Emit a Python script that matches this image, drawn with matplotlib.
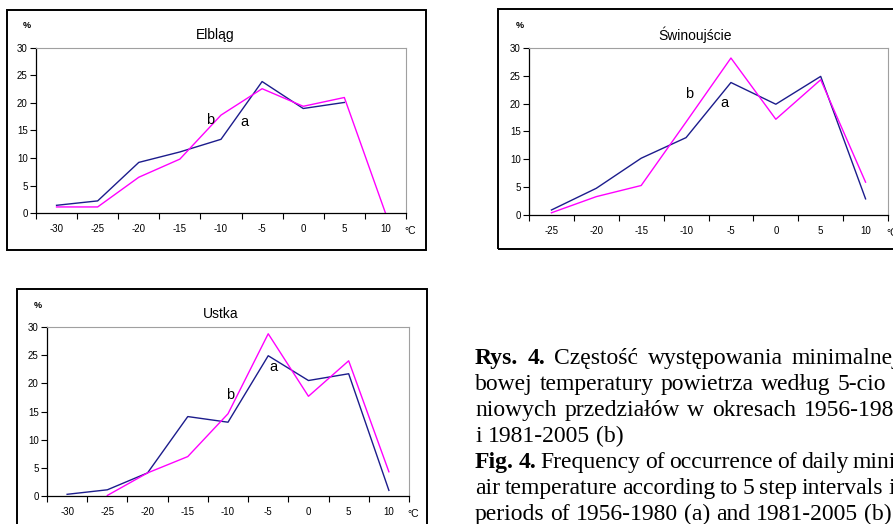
import numpy as np
import matplotlib
matplotlib.use('Agg')
import matplotlib.pyplot as plt
from matplotlib.patches import Rectangle

# temperature classes (°C) and frequency of occurrence (%)
# a = 1956-1980, b = 1981-2005
temps_elblag = ['-30', '-25', '-20', '-15', '-10', '-5', '0', '5', '10']
elblag_a = [1.4, 2.2, 9.2, 11.1, 13.4, 23.9, 19.0, 20.1, np.nan]
elblag_b = [1.1, 1.1, 6.5, 9.8, 17.8, 22.6, 19.4, 21.0, 0.0]

temps_swin = ['-25', '-20', '-15', '-10', '-5', '0', '5', '10']
swin_a = [0.9, 4.8, 10.2, 13.9, 23.8, 19.9, 24.9, 2.9]
swin_b = [0.4, 3.3, 5.3, 16.7, 28.2, 17.2, 24.3, 5.9]

temps_ustka = ['-30', '-25', '-20', '-15', '-10', '-5', '0', '5', '10']
ustka_a = [0.3, 1.1, 4.1, 14.1, 13.1, 24.9, 20.5, 21.7, 1.0]
ustka_b = [np.nan, 0.1, 4.1, 7.0, 14.6, 28.8, 17.7, 24.0, 4.3]

yticks = [0, 5, 10, 15, 20, 25, 30]

# caption lines: (bold prefix, text)
caption = [
    ('Rys. 4.', 'Częstość występowania minimalnej do-'),
    ('', 'bowej temperatury powietrza według 5-cio stop-'),
    ('', 'niowych przedziałów w okresach 1956-1980 (a)'),
    ('', 'i 1981-2005 (b)'),
    ('Fig. 4.', 'Frequency of occurrence of daily minimum'),
    ('', 'air temperature according to 5 step intervals in the'),
    ('', 'periods of 1956-1980 (a) and 1981-2005 (b)'),
]

NAVY = '#1c1c8c'
MAGENTA = '#ff00ff'

W, H = 893, 524
plt.rcParams['font.family'] = ['Liberation Sans', 'DejaVu Sans']
fig = plt.figure(figsize=(W / 100, H / 100), dpi=100)


def fx(x):
    return x / W


def fy(y):
    return 1 - y / H


def panel(box, axpos, title, title_x, cats, a, b, a_pos, b_pos):
    # outer frame of the chart object
    x0, y0, x1, y1 = box
    fig.add_artist(Rectangle((fx(x0), fy(y1)), fx(x1 - x0), (y1 - y0) / H,
                             transform=fig.transFigure, fill=False,
                             ec='black', lw=1.4))
    l, t, r, btm = axpos
    ax = fig.add_axes([fx(l), fy(btm), fx(r - l), (btm - t) / H])
    x = np.arange(len(cats))
    ax.plot(x, a, color=NAVY, lw=1.0, clip_on=False)
    ax.plot(x, b, color=MAGENTA, lw=1.0, clip_on=False)
    ax.set_xlim(-0.5, len(cats) - 0.5)
    ax.set_ylim(0, 30)
    ax.set_yticks(yticks)
    ax.tick_params(axis='y', direction='out', length=4, width=0.8,
                   labelsize=7, pad=2)
    ax.set_xticks(x)
    ax.set_xticklabels(cats)
    ax.set_xticks(np.arange(len(cats) + 1) - 0.5, minor=True)
    ax.tick_params(axis='x', which='major', length=0, labelsize=7, pad=8)
    ax.tick_params(axis='x', which='minor', direction='out', length=4, width=0.8)
    for s in ['top', 'right']:
        ax.spines[s].set_color('#a0a0a0')
    for s in ['left', 'bottom']:
        ax.spines[s].set_linewidth(0.9)

    w, h = r - l, btm - t
    ax.text((title_x - l) / w, 1 + 13 / h, title, transform=ax.transAxes,
            ha='center', va='center', fontsize=10)
    ax.text(-9 / w, 1 + 22 / h, '%', transform=ax.transAxes,
            ha='center', va='center', fontsize=6.5, fontweight='bold')
    ax.text(1 + 4 / w, -18 / h, '°C', transform=ax.transAxes,
            ha='center', va='center', fontsize=7.5)
    ax.text(a_pos[0], a_pos[1], 'a', ha='center', va='center', fontsize=10.5)
    ax.text(b_pos[0], b_pos[1], 'b', ha='center', va='center', fontsize=10.5)
    return ax


panel((7, 10, 426, 250), (36, 48, 406, 213), 'Elbląg', 215,
      temps_elblag, elblag_a, elblag_b, (4.58, 16.5), (3.73, 16.9))
panel((498, 9, 960, 249), (529, 48, 888, 215), 'Świnoujście', 695,
      temps_swin, swin_a, swin_b, (3.86, 20.1), (3.06, 21.7))
panel((17, 289, 427, 560), (47, 327, 409, 496), 'Ustka', 221,
      temps_ustka, ustka_a, ustka_b, (5.12, 22.9), (4.05, 17.9))

# caption (Polish / English), justified column cut by the right edge
cap = fig.add_axes([0, 0, 1, 1])
cap.set_xlim(0, W)
cap.set_ylim(H, 0)
cap.axis('off')
serif = ['Liberation Serif', 'DejaVu Serif']
col_left, col_right = 475, 940
fs = 17
space = 0.25 * fs * 100 / 72
renderer = fig.canvas.get_renderer()

for i, (bold, rest) in enumerate(caption):
    yb = 364 + 26 * i
    words = [(wd, 'bold') for wd in bold.split()] + [(wd, 'normal') for wd in rest.split()]
    texts = [cap.text(0, yb, wd, fontsize=fs, fontweight=fw, family=serif,
                      va='baseline', ha='left') for wd, fw in words]
    widths = [t.get_window_extent(renderer).width for t in texts]
    last_of_par = i == len(caption) - 1 or caption[i + 1][0] != ''
    if last_of_par:
        gap = space
    else:
        gap = max(0.75 * space, (col_right - col_left - sum(widths)) / (len(words) - 1))
    xpos = col_left
    for t, wdt in zip(texts, widths):
        t.set_x(xpos)
        xpos += wdt + gap

fig.savefig('out.png', dpi=100)
